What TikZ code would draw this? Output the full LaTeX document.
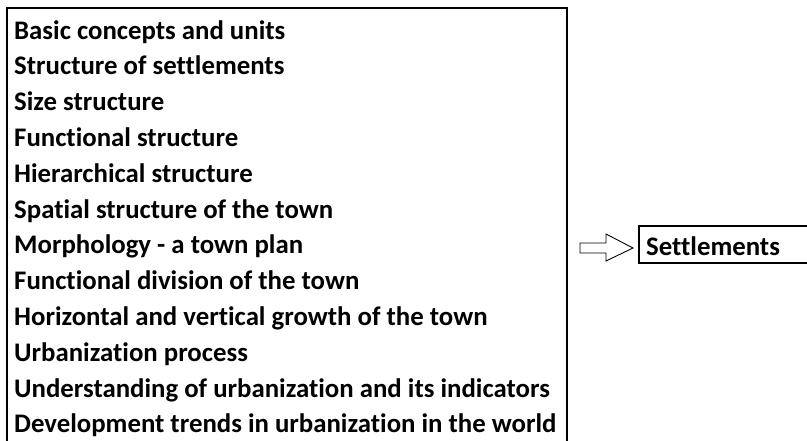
\documentclass[tikz,border=0pt]{standalone}
\usepackage{fontspec}
\setmainfont{Carlito}[Ligatures={NoCommon,NoContextual}]
\usetikzlibrary{positioning}

\begin{document}
\begin{tikzpicture}[x=1pt,y=-1pt,
    topic/.style={anchor=base west,inner sep=0pt,
      font=\fontsize{26.8}{30}\selectfont\bfseries},
    frame/.style={draw=black,line width=2.6pt},
    hollow_arrow/.style={draw=black,line width=0.9pt,fill=white,line join=miter}]

  \useasboundingbox (0,0) rectangle (807,440);

  % list of topics
  \draw[frame] (7,8) rectangle (567,470);
  \path (14,39) node(t1) [topic] {Basic concepts and units}
  (14,74.8) node(t2) [topic] {Structure of settlements}
  (14,110.6) node(t3) [topic] {Size structure}
  (14,146.4) node(t4) [topic] {Functional structure}
  (14,182.2) node(t5) [topic] {Hierarchical structure}
  (14,218) node(t6) [topic] {Spatial structure of the town}
  (14,253.8) node(t7) [topic] {Morphology - a town plan}
  (14,289.6) node(t8) [topic] {Functional division of the town}
  (14,325.4) node(t9) [topic] {Horizontal and vertical growth of the town}
  (14,361.2) node(t10) [topic] {Urbanization process}
  (14,397) node(t11) [topic] {Understanding of urbanization and its indicators}
  (14,432.8) node(t12) [topic] {Development trends in urbanization in the world};

  % target box
  \draw[frame] (639,226) rectangle (830,263);
  \path (646,255) node(set) [topic] {Settlements};

  %\draw (t7) -- (set);
  \draw[hollow_arrow] (580,243) -- (606,243) -- (606,234) -- (633,248)
    -- (606,261) -- (606,253) -- (580,253) -- cycle;

\end{tikzpicture}
\end{document}
